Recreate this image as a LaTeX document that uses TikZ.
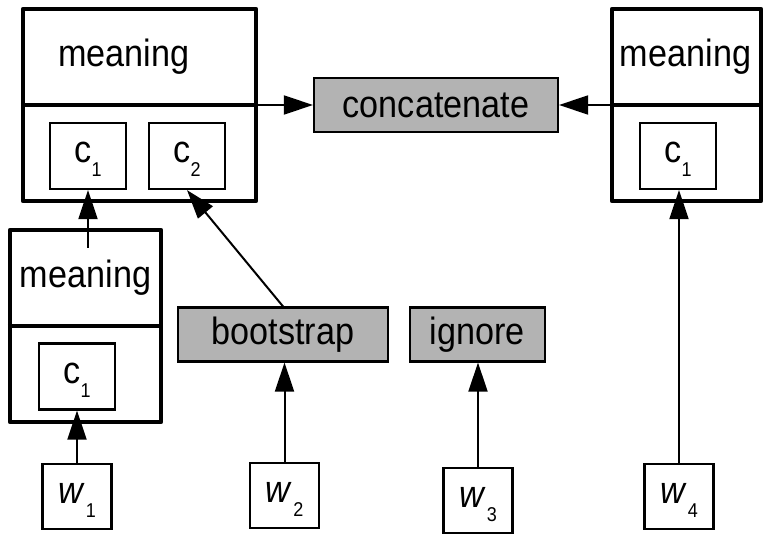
\documentclass[tikz,border=0pt]{standalone}
\usepackage{fontspec}
\setmainfont[FakeStretch=0.9]{Liberation Sans}
\usetikzlibrary{arrows.meta}
\definecolor{opgray}{RGB}{179,179,179}
\newcommand{\lowsub}[1]{\raisebox{-14pt}{\fontsize{20}{20}\selectfont #1}}

\begin{document}
\begin{tikzpicture}[x=1pt,y=1pt]
	\tikzstyle{every node}+=[inner sep=0pt, font=\fontsize{38}{44}\selectfont]
	\tikzstyle{memory}=[draw, line width=4.5pt, line join=round, minimum height=192pt]
	\tikzstyle{cell}=[draw, line width=2.2pt, minimum width=76pt, minimum height=66pt, text height=24pt, text depth=10pt]
	\tikzstyle{word}=[draw, line width=2.2pt, minimum width=69pt, minimum height=65pt, text height=24pt, text depth=10pt]
	\tikzstyle{op}=[draw, fill=opgray, line width=2.2pt, minimum height=54pt]
	\tikzstyle{conn}=[line width=2pt, -{Triangle[length=29pt,width=19pt]}]
	\useasboundingbox (0,0) rectangle (764,-534);
	\node [memory, minimum width=233pt] (mem1) at (139.5,-105) {};
	\draw [line width=4.5pt] (mem1.west) -- (mem1.east);
	\node (mean1) at (124,-57) {meaning};
	\node [cell] (c1a) at (88,-156) {c\lowsub{1}};
	\node [cell] (c2a) at (187,-156) {c\lowsub{2}};
	\node [memory, minimum width=151pt] (mem2) at (85.5,-326) {};
	\draw [line width=4.5pt] (mem2.west) -- (mem2.east);
	\node (mean2) at (85.5,-278) {meaning};
	\node [cell] (c1b) at (77,-376.5) {c\lowsub{1}};
	\node [memory, minimum width=149pt] (mem3) at (686.5,-105) {};
	\draw [line width=4.5pt] (mem3.west) -- (mem3.east);
	\node (mean3) at (685.5,-57) {meaning};
	\node [cell] (c1c) at (678,-156) {c\lowsub{1}};
	\node [op, minimum width=244pt] (concat) at (436,-105) {concatenate};
	\node [op, minimum width=210pt] (boot) at (283,-334.5) {bootstrap};
	\node [op, minimum width=135pt] (ign) at (477.5,-334.5) {ignore};
	\node [word] (w1) at (77,-496.5) {\textit{w}\kern1pt\lowsub{1}};
	\node [word] (w2) at (284.5,-495.5) {\textit{w}\kern1pt\lowsub{2}};
	\node [word] (w3) at (478,-500.5) {\textit{w}\kern1pt\lowsub{3}};
	\node [word] (w4) at (679,-496.5) {\textit{w}\kern1pt\lowsub{4}};
	\coordinate (lift) at (88,-248);
	\draw [conn] (mem1.east) -- (concat.west);
	\draw [conn] (mem3.west) -- (concat.east);
	\draw [conn] (lift) -- (c1a.south);
	\draw [conn] (boot.north) -- (c2a.south);
	\draw [conn] (w1.north) -- (c1b.south);
	\draw [conn] (w2.north) -- (w2.north |- boot.south);
	\draw [conn] (w3.north) -- (w3.north |- ign.south);
	\draw [conn] (w4.north) -- (w4.north |- c1c.south);
\end{tikzpicture}
\end{document}
